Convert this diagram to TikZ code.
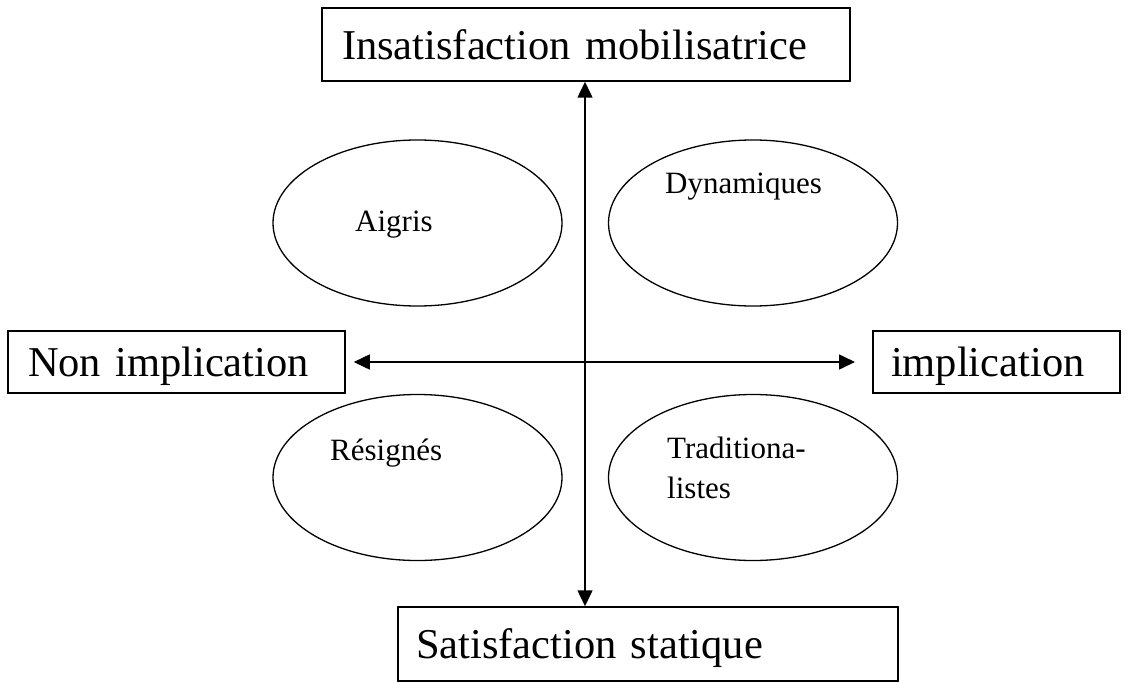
\documentclass[tikz,border=0pt]{standalone}
\usepackage{fontspec}
\setmainfont{Liberation Serif}
\usetikzlibrary{arrows.meta,shapes.geometric}
\begin{document}
\begin{tikzpicture}[x=1pt,y=-1pt,
  lw/.style={line width=1.5pt},
  axisbox/.style={draw, lw, rectangle, inner ysep=0pt, align=left,
    font=\fontsize{42.5}{50}\selectfont, text height=29.7pt, text depth=0pt},
  oval/.style={draw, line width=1.3pt, ellipse, minimum width=289pt,
    minimum height=166pt, inner sep=0pt},
  tag/.style={font=\fontsize{31}{39.5}\selectfont, inner sep=0pt, anchor=base west},
  axis/.style={lw, {Triangle[length=16pt,width=15pt]}-{Triangle[length=16pt,width=15pt]}}]

% page area
\fill[white] (0,0) rectangle (1131,682);
\useasboundingbox (0,0) rectangle (1131,682);

% the four pole boxes
\node[axisbox, minimum width=528pt, minimum height=73pt, text width=488pt, inner xsep=20pt]
  (top) at (586,44.5) {Insatisfaction mobilisatrice};
\node[axisbox, minimum width=500pt, minimum height=74pt, text width=464pt, inner xsep=18pt]
  (bot) at (648,644) {Satisfaction statique};
\node[axisbox, minimum width=337pt, minimum height=62pt, text width=297pt, inner xsep=20pt]
  (left) at (176.5,362) {Non implication};
\node[axisbox, minimum width=247pt, minimum height=62pt, text width=211pt, inner xsep=18pt]
  (right) at (996.5,362) {implication};

% the four groups
\node[oval] (aig) at (417.5,223) {};
\node[oval] (dyn) at (753,223) {};
\node[oval] (res) at (417.5,477.5) {};
\node[oval] (tra) at (753,477.5) {};

\node[tag] (aigT) at (355,231) {Aigris};
\node[tag] (dynT) at (665,193) {Dynamiques};
\node[tag] (resT) at (330,460) {Résignés};
\node[tag, anchor=north west, align=left] (traT) at (667,436.8) {Traditiona-\\listes};

% axes
\coordinate (o) at (585,362);
\coordinate (hr) at (855,362);
\draw[axis] (o |- top.south) -- (o |- bot.north);
\draw[axis] ([xshift=8pt]left.east) -- (hr);
\end{tikzpicture}
\end{document}
